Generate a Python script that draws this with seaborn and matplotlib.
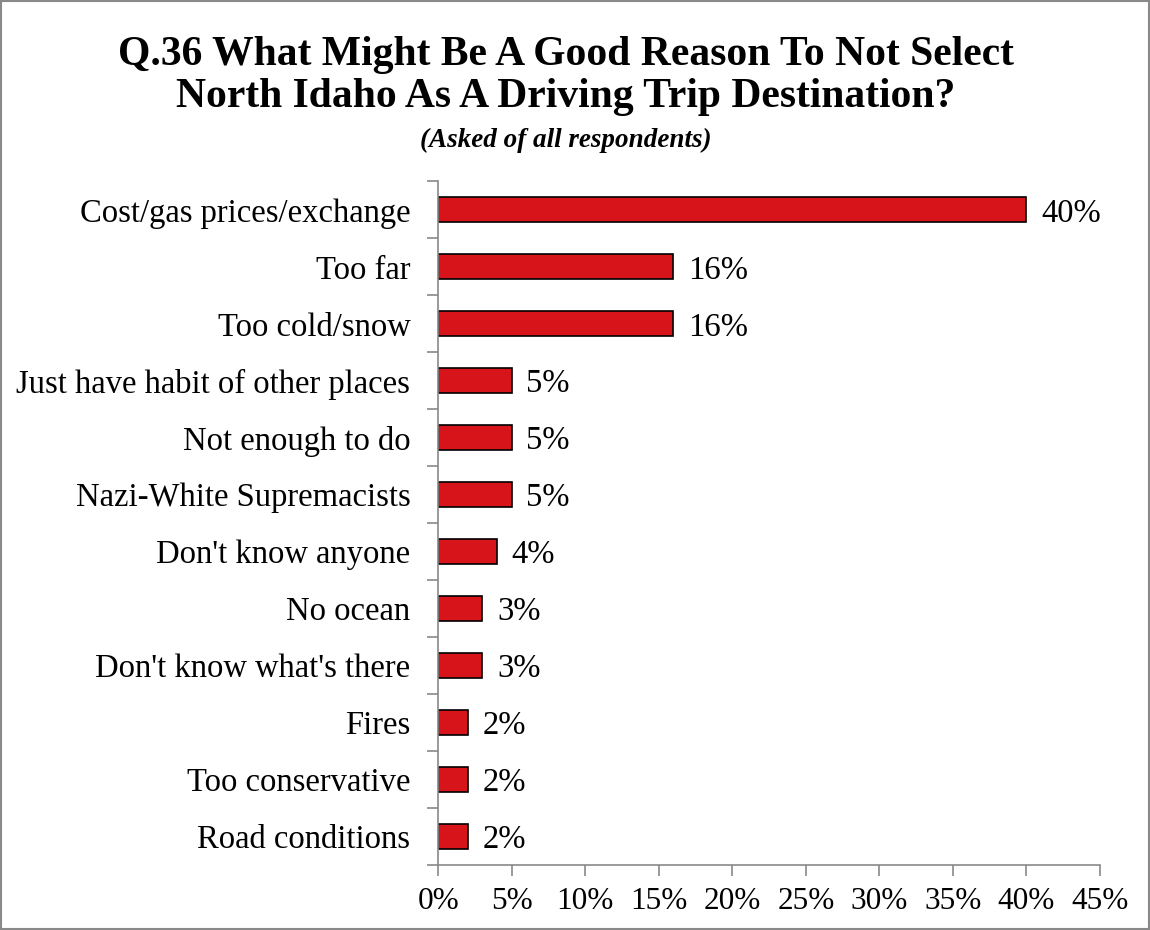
import matplotlib
matplotlib.use("Agg")
import matplotlib.pyplot as plt
import seaborn as sns
import numpy as np
import pandas as pd
from matplotlib.patches import Rectangle
from matplotlib.ticker import FixedLocator, PercentFormatter

categories = ["Cost/gas prices/exchange", "Too far", "Too cold/snow",
              "Just have habit of other places", "Not enough to do",
              "Nazi-White Supremacists", "Don't know anyone", "No ocean",
              "Don't know what's there", "Fires", "Too conservative",
              "Road conditions"]
values = [40, 16, 16, 5, 5, 5, 4, 3, 3, 2, 2, 2]
xticks = [0, 5, 10, 15, 20, 25, 30, 35, 40, 45]

sns.set_theme(style="white")
plt.rcParams['font.family'] = ['Liberation Serif', 'DejaVu Serif']
plt.rcParams['text.color'] = 'black'
plt.rcParams['xtick.labelcolor'] = 'black'
plt.rcParams['ytick.labelcolor'] = 'black'

df = pd.DataFrame({"cat": categories, "val": values})

fig = plt.figure(figsize=(11.5, 9.3), dpi=100)
ax = fig.add_axes([0.381, 0.070, 0.5755, 0.735])

sns.barplot(data=df, x="val", y="cat", orient="h", color="#D7141A",
            edgecolor="black", linewidth=1.2, width=0.44, saturation=1, ax=ax)

ax.set_xlim(0, 45)
ax.set_ylim(len(categories) - 0.5, -0.5)
ax.set_xticks(xticks)
ax.xaxis.set_major_formatter(PercentFormatter(decimals=0))
ax.set_xlabel("")
ax.set_ylabel("")

for s in ["top", "right"]:
    ax.spines[s].set_visible(False)
for s in ["left", "bottom"]:
    ax.spines[s].set_color("#898989")
    ax.spines[s].set_linewidth(1.2)

ax.tick_params(axis="x", which="major", direction="out", length=8, width=1.2,
               color="#898989", labelsize=22.5, pad=8, bottom=True)
ax.tick_params(axis="y", which="major", length=0, labelsize=23.5, pad=20)
ax.yaxis.set_minor_locator(FixedLocator(np.arange(-0.5, len(categories) + 0.5, 1)))
ax.tick_params(axis="y", which="minor", direction="out", length=8, width=1.2,
               color="#898989", left=True)

for i, v in enumerate(values):
    ax.text(v + 1.0, i, f"{v}%", va="center_baseline", ha="left", fontsize=23.5)

fig.text(0.492, 0.941, "Q.36 What Might Be A Good Reason To Not Select",
         ha="center", va="center", fontsize=30, fontweight="bold")
fig.text(0.492, 0.896, "North Idaho As A Driving Trip Destination?",
         ha="center", va="center", fontsize=30, fontweight="bold")
fig.text(0.492, 0.849, "(Asked of all respondents)", ha="center", va="center",
         fontsize=19.5, fontweight="bold", fontstyle="italic")

fig.patches.append(Rectangle((0.001, 0.001), 0.998, 0.998, transform=fig.transFigure,
                             fill=False, edgecolor="#898989", linewidth=1.5))

fig.savefig("out.png", dpi=100, facecolor="white")
